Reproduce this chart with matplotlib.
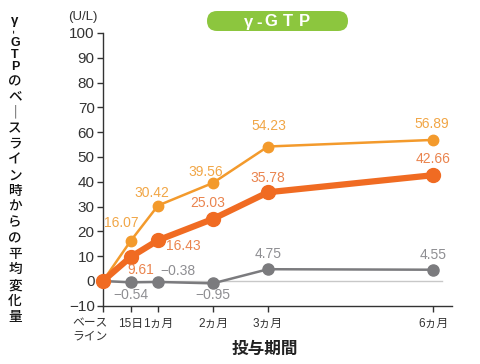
import matplotlib
matplotlib.use("Agg")
import matplotlib.pyplot as plt
from matplotlib.patches import FancyBboxPatch
from matplotlib.transforms import IdentityTransform

# data
months = [0, 0.5, 1, 2, 3, 6]
tick_labels = ["", "15日", "1ヵ月", "2ヵ月", "3ヵ月", "6ヵ月"]
base_label = "ベース\nライン"
light = [0, 16.07, 30.42, 39.56, 54.23, 56.89]
dark = [0, 9.61, 16.43, 25.03, 35.78, 42.66]
gray = [0, -0.54, -0.38, -0.95, 4.75, 4.55]

# label offsets in pixels (dx, dy) for each point, skipping baseline
light_off = [(-9, 18), (-6, 13), (-7, 11), (1, 21), (-1, 16)]
dark_off = [(10, -13), (25, -6), (-5, 16), (0, 14), (0, 16)]
gray_off = [(0, -13), (20, 11), (0, -12), (0, 15), (0, 15)]

LIGHT = "#f39a2c"
LIGHT_TXT = "#f1a646"
DARK = "#f06b22"
DARK_TXT = "#ea844e"
GRAY = "#7b7b7e"
GRAY_TXT = "#8e8e92"

NUMFONT = ["Liberation Sans", "DejaVu Sans"]
JPFONT = ["Liberation Sans", "Noto Sans CJK JP", "DejaVu Sans"]

W, H = 480, 364

fig = plt.figure(figsize=(4.8, 3.64), dpi=100)
ax = fig.add_axes([103 / W, 1 - 305.8 / H, 349 / W, 272.8 / H])

ax.set_xlim(0, 349 / 55)
ax.set_ylim(-10, 100)

ax.axhline(0, xmin=0, xmax=(442 - 103) / 349, color="#c8c8c8", lw=1, zorder=1)

ax.plot(months, gray, color=GRAY, lw=1.8, marker="o", ms=8, zorder=3,
        clip_on=False)
ax.plot(months, light, color=LIGHT, lw=1.8, marker="o", ms=7.5, zorder=4,
        clip_on=False)
ax.plot(months, dark, color=DARK, lw=4.5, marker="o", ms=10, zorder=5,
        clip_on=False)


def fmt(v):
    return f"{v:.2f}".replace("-", "\u2212")


for vals, offs, col in [(light, light_off, LIGHT_TXT),
                        (dark, dark_off, DARK_TXT),
                        (gray, gray_off, GRAY_TXT)]:
    for x, y, (dx, dy) in zip(months[1:], vals[1:], offs):
        ax.annotate(fmt(y), (x, y), xytext=(dx, dy),
                    textcoords="offset pixels", ha="center", va="center",
                    color=col, fontsize=10, family=NUMFONT, zorder=6)

for s in ["top", "right"]:
    ax.spines[s].set_visible(False)
for s in ["left", "bottom"]:
    ax.spines[s].set_color("#333333")
    ax.spines[s].set_linewidth(1)

ax.set_yticks(range(-10, 101, 10))
ax.set_yticklabels([str(v).replace("-", "\u2212") for v in range(-10, 101, 10)],
                   family=NUMFONT, fontsize=11, color="#333333")
ax.tick_params(axis="y", direction="out", length=4, width=1, color="#333333", pad=2)

ax.set_xticks(months)
ax.set_xticklabels(tick_labels, family=JPFONT, fontsize=8.5, color="#333333")
ax.tick_params(axis="x", direction="out", length=4, width=1, color="#333333", pad=5)

fig.text(90 / W, 1 - 330 / H, base_label, ha="center", va="center",
         family=JPFONT, fontsize=8.5, color="#333333", linespacing=1.05)

fig.text(83 / W, 1 - 17 / H, "(U/L)", ha="center", va="center",
         family=NUMFONT, fontsize=9.5, color="#333333")

fig.text(265 / W, 1 - 349 / H, "投与期間", ha="center", va="center",
         family=["Noto Sans CJK JP"], fontsize=12, fontweight="bold",
         color="#222222")

# vertical y label, one character per row
LX = 15 / W
fig.text(LX, 1 - 21 / H, "γ", ha="center", va="center",
         family=NUMFONT, fontsize=9.5, fontweight="bold", color="#111111")
fig.text(LX, 1 - 31.5 / H, "-", ha="center", va="center", rotation=90,
         family=NUMFONT, fontsize=8, fontweight="bold", color="#111111")
for ch, y in zip("GTP", [43, 55, 66.5]):
    fig.text(LX, 1 - y / H, ch, ha="center", va="center",
             family=NUMFONT, fontsize=9, fontweight="bold", color="#111111")
ylab_rest = ["の", "ベ", "｜", "ス", "ラ", "イ", "ン", "時", "か", "ら",
             "の", "平", "均", "変", "化", "量"]
for i, ch in enumerate(ylab_rest):
    y = 81 + 15.7 * i
    fig.text(LX, 1 - y / H, ch, ha="center", va="center",
             family=["Noto Sans CJK JP"], fontsize=9.8, fontweight="medium",
             color="#111111")

# green title pill (pixel coordinates)
pill = FancyBboxPatch((207, H - 31), 141, 20,
                      boxstyle="round,pad=0,rounding_size=10",
                      transform=IdentityTransform(), facecolor="#8cc63e",
                      edgecolor="none")
fig.patches.append(pill)
for ch, x in zip("γ-GTP", [249, 259, 271, 288, 304]):
    fig.text(x / W, 1 - 22 / H, ch, ha="center", va="center",
             family=NUMFONT, fontsize=12, fontweight="bold", color="white")

fig.savefig("out.png", dpi=100)
